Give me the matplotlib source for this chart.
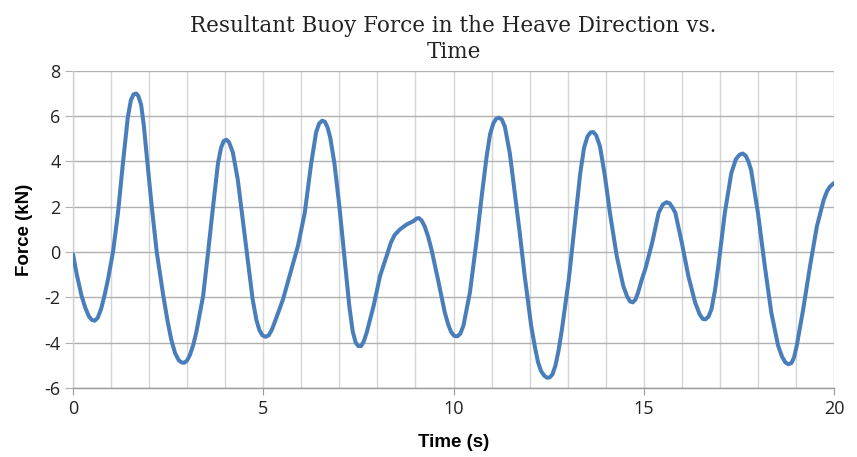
import matplotlib
matplotlib.use("Agg")
import matplotlib.pyplot as plt
from matplotlib.ticker import MultipleLocator

plt.rcParams["axes.unicode_minus"] = False

# Data
time_s = [0.0, 0.1, 0.22, 0.32, 0.42, 0.5, 0.57, 0.65, 0.74, 0.83, 0.92, 1.05,
          1.18, 1.31, 1.44, 1.52, 1.59, 1.66, 1.72, 1.79, 1.86, 1.94, 2.07, 2.2,
          2.37, 2.48, 2.58, 2.68, 2.78, 2.86, 2.93, 3.0, 3.07, 3.16, 3.24, 3.42,
          3.55, 3.68, 3.81, 3.89, 3.96, 4.03, 4.1, 4.2, 4.33, 4.46, 4.59, 4.72,
          4.82, 4.9, 4.98, 5.06, 5.14, 5.22, 5.3, 5.52, 5.74, 5.91, 6.09, 6.26,
          6.39, 6.47, 6.55, 6.62, 6.69, 6.76, 6.87, 7.0, 7.13, 7.26, 7.35, 7.43,
          7.5, 7.57, 7.64, 7.72, 7.9, 8.07, 8.24, 8.35, 8.45, 8.59, 8.77, 8.94,
          9.03, 9.09, 9.16, 9.24, 9.33, 9.42, 9.59, 9.77, 9.86, 9.94, 10.02,
          10.1, 10.18, 10.26, 10.43, 10.61, 10.74, 10.87, 10.96, 11.05, 11.13,
          11.2, 11.27, 11.35, 11.48, 11.61, 11.74, 11.87, 12.04, 12.14, 12.22,
          12.3, 12.38, 12.46, 12.53, 12.6, 12.68, 12.76, 12.85, 13.03, 13.2,
          13.33, 13.43, 13.52, 13.6, 13.67, 13.75, 13.85, 13.98, 14.11, 14.29,
          14.46, 14.56, 14.64, 14.71, 14.78, 14.85, 14.95, 15.04, 15.22, 15.39,
          15.5, 15.6, 15.68, 15.76, 15.83, 16.0, 16.17, 16.35, 16.47, 16.55,
          16.62, 16.7, 16.78, 16.87, 16.96, 17.13, 17.3, 17.42, 17.52, 17.6,
          17.68, 17.75, 17.82, 18.0, 18.18, 18.35, 18.53, 18.63, 18.72, 18.8,
          18.88, 18.95, 19.02, 19.19, 19.37, 19.55, 19.73, 19.82, 19.9, 20.0]
force_kn = [-0.1, -1.0, -1.9, -2.45, -2.85, -3.0, -3.03, -2.9, -2.5, -1.9, -1.2, 0.0,
            1.7, 3.9, 5.95, 6.7, 6.96, 7.0, 6.88, 6.5, 5.6, 4.2, 2.0, 0.0,
            -1.9, -3.0, -3.85, -4.45, -4.78, -4.88, -4.88, -4.78, -4.55, -4.1, -3.54, -1.93,
            0.0, 2.0, 3.92, 4.6, 4.9, 4.96, 4.85, 4.4, 3.2, 1.43, -0.3, -2.08,
            -3.0, -3.45, -3.68, -3.74, -3.68, -3.45, -3.1, -2.08, -0.76, 0.26, 1.73, 3.92,
            5.3, 5.68, 5.8, 5.75, 5.5, 5.05, 3.92, 2.02, -0.18, -2.37, -3.5, -4.0,
            -4.15, -4.15, -3.95, -3.54, -2.37, -1.05, -0.18, 0.4, 0.75, 1.0, 1.22, 1.36,
            1.48, 1.5, 1.4, 1.14, 0.7, 0.12, -1.2, -2.66, -3.2, -3.54, -3.7,
            -3.72, -3.6, -3.25, -1.79, 0.56, 2.46, 4.22, 5.2, 5.7, 5.9,
            5.93, 5.85, 5.53, 4.36, 2.6, 0.85, -1.05, -3.25, -4.2, -4.86,
            -5.25, -5.45, -5.55, -5.53, -5.4, -5.0, -4.35, -3.4, -1.2, 1.43,
            3.48, 4.6, 5.1, 5.28, 5.3, 5.15, 4.66, 3.34, 1.73, -0.18,
            -1.49, -1.95, -2.18, -2.22, -2.1, -1.79, -1.2, -0.75, 0.41, 1.73,
            2.1, 2.2, 2.15, 1.95, 1.73, 0.41, -1.05, -2.23, -2.75, -2.95,
            -2.97, -2.85, -2.52, -1.7, -0.61, 1.73, 3.48, 4.1, 4.3, 4.35,
            4.25, 4.0, 3.63, 1.73, -0.61, -2.66, -4.13, -4.6, -4.87, -4.95,
            -4.9, -4.65, -4.13, -2.52, -0.61, 1.14, 2.31, 2.7, 2.9, 3.05]

title_text = "Resultant Buoy Force in the Heave Direction vs.\nTime"
x_label = "Time (s)"
y_label = "Force (kN)"
x_ticks = [0, 5, 10, 15, 20]
y_ticks = [-6, -4, -2, 0, 2, 4, 6, 8]

fig = plt.figure(figsize=(8.57, 4.57), dpi=100)
ax = fig.add_axes([0.0852, 0.151, 0.888, 0.694])

ax.plot(time_s, force_kn, color="#4a7ebb", lw=2.9, solid_joinstyle="round",
        solid_capstyle="round", antialiased=True, zorder=3)

ax.set_xlim(0, 20)
ax.set_ylim(-6, 8)
ax.set_xticks(x_ticks)
ax.set_yticks(y_ticks)
ax.xaxis.set_minor_locator(MultipleLocator(1))

ax.grid(which="major", axis="y", color="#b0b0b0", lw=1.0, zorder=1)
ax.grid(which="both", axis="x", color="#d6d6d6", lw=1.0, zorder=1)

for side in ["top", "right"]:
    ax.spines[side].set_visible(False)
ax.spines["left"].set_color("#d0d0d0")
ax.spines["bottom"].set_color("#9a9a9a")
ax.spines["left"].set_linewidth(1.0)
ax.spines["bottom"].set_linewidth(1.0)

ax.tick_params(axis="x", which="major", length=5, color="#9a9a9a", labelsize=13,
               pad=4, labelcolor="#222222")
ax.tick_params(axis="x", which="minor", length=0)
ax.tick_params(axis="y", length=6, color="#b0b0b0", labelsize=13, pad=3,
               labelcolor="#222222")
for lbl in ax.get_xticklabels() + ax.get_yticklabels():
    lbl.set_family(["Open Sans", "DejaVu Sans"])

ax.set_xlabel(x_label, fontsize=13.5, fontweight="bold", family="Liberation Sans",
              labelpad=11)
ax.set_ylabel(y_label, fontsize=13.5, fontweight="bold", family="Liberation Sans",
              labelpad=8)
ax.set_title(title_text, fontsize=15.5, family="DejaVu Serif", color="#222222",
             pad=9, linespacing=1.25)

fig.savefig("out.png", dpi=100)
